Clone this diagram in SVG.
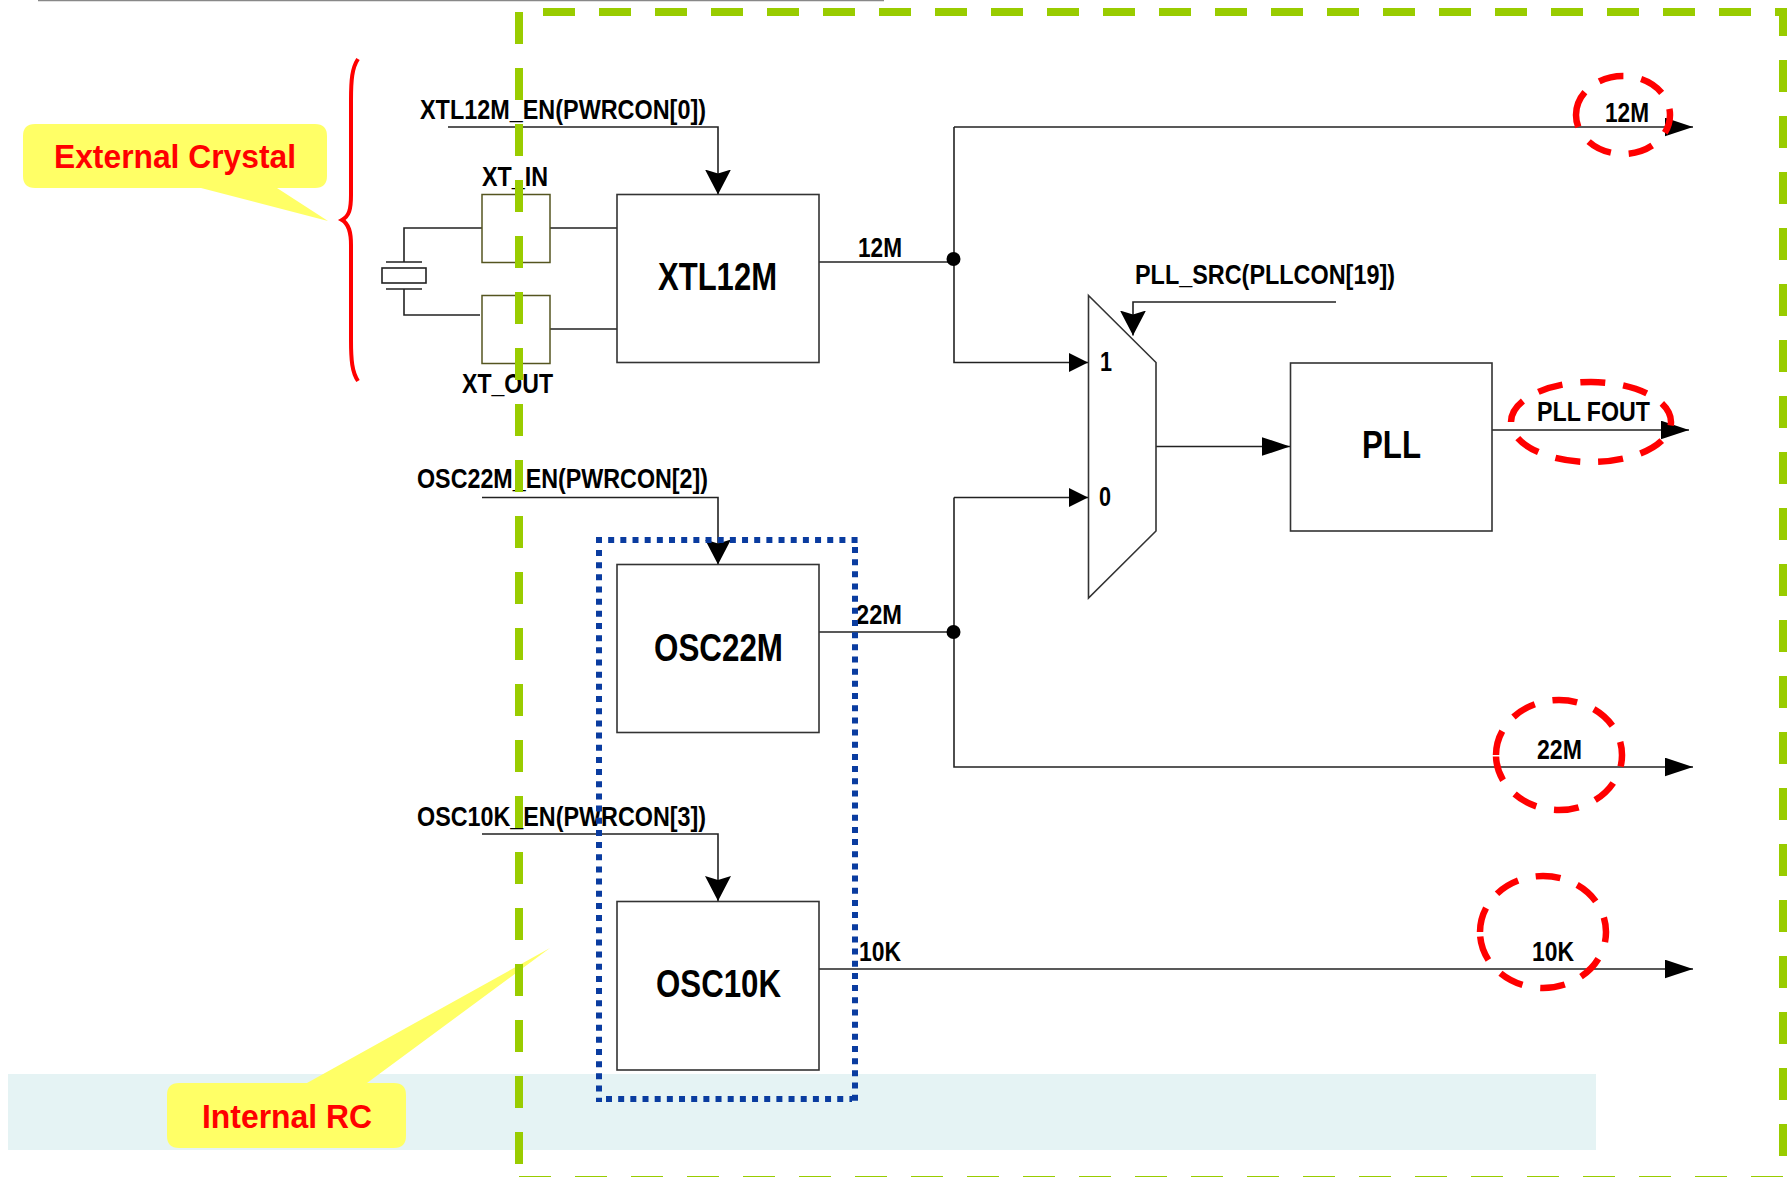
<svg xmlns="http://www.w3.org/2000/svg" width="1791" height="1177" viewBox="0 0 1791 1177">
<style>
text{font-family:"Liberation Sans",Arial,sans-serif;font-weight:bold;fill:#000;font-size:27.5px}
.big{font-size:38px}
.red{fill:#f00;font-size:33.5px}
.box{fill:#fff;stroke:#333;stroke-width:1.6}
.pad{fill:#fff;stroke:#555520;stroke-width:1.5}
.w{fill:none;stroke:#222;stroke-width:1.6}
.call{fill:#ff6;stroke:none}
.ring{fill:none;stroke:#f00;stroke-width:6.5;stroke-dasharray:25 18}
.green{fill:none;stroke:#9c0;stroke-width:8;stroke-dasharray:32 24}
.blue{fill:none;stroke:#0a3ca0;stroke-width:6;stroke-dasharray:6 6.17}
</style>
<defs>
<marker id="ar" markerUnits="userSpaceOnUse" markerWidth="30" markerHeight="20" refX="28.5" refY="9.5" orient="auto"><path d="M0,0L28.5,9.5L0,19z" fill="#000"/></marker>
<marker id="ad" markerUnits="userSpaceOnUse" markerWidth="26" markerHeight="28" refX="25" refY="13" orient="auto"><path d="M0,0L4,13L0,26L25,13z" fill="#000"/></marker>
<marker id="am" markerUnits="userSpaceOnUse" markerWidth="22" markerHeight="22" refX="19" refY="9.5" orient="auto"><path d="M0,0L19,9.5L0,19z" fill="#000"/></marker>
</defs>
<rect width="1791" height="1177" fill="#fff"/>
<path d="M38,0.5H884" fill="none" stroke="#888" stroke-width="1.5"/>
<rect id="band" x="8" y="1074" width="1588" height="76" fill="#e5f3f4"/>

<g id="connectors">
<path class="w" d="M448,127H718V194.5" marker-end="url(#ad)"/>
<path class="w" d="M954,127H1693" marker-end="url(#ar)"/>
<path class="w" d="M819,262H954"/>
<path class="w" d="M954,127V362.5H1088" marker-end="url(#am)"/>
<path class="w" d="M482,497.5H718V564.5" marker-end="url(#ad)"/>
<path class="w" d="M482,834H718V901" marker-end="url(#ad)"/>
<path class="w" d="M819,632H954"/>
<path class="w" d="M954,497.5H1088" marker-end="url(#am)"/>
<path class="w" d="M954,497.5V767H1693" marker-end="url(#ar)"/>
<path class="w" d="M819,969H1693" marker-end="url(#ar)"/>
<path class="w" d="M1336,302H1133V335.5" marker-end="url(#ad)"/>
<path class="w" d="M1156,446.5H1290" marker-end="url(#ar)"/>
<path class="w" d="M1492,430H1689" marker-end="url(#ar)"/>
<path class="w" d="M482,228H404V262M386,262H422M386,289H422M404,289V315H480M550,228H617M550,329H617"/>
<rect class="w" x="382" y="268" width="44" height="15"/>
<circle cx="953.5" cy="259" r="7" fill="#000"/>
<circle cx="953.5" cy="632" r="7" fill="#000"/>
</g>

<g id="xt-in"><rect class="pad" x="482" y="194.5" width="68" height="68"/><text x="482" y="186" textLength="66" lengthAdjust="spacingAndGlyphs">XT_IN</text></g>
<g id="xt-out"><rect class="pad" x="482" y="295.5" width="68" height="68"/><text x="462" y="393" textLength="91" lengthAdjust="spacingAndGlyphs">XT_OUT</text></g>
<g id="xtl12m"><rect class="box" x="617" y="194.5" width="202" height="168"/><text class="big" x="658" y="290" textLength="119" lengthAdjust="spacingAndGlyphs">XTL12M</text></g>
<g id="osc22m"><rect class="box" x="617" y="564.5" width="202" height="168"/><text class="big" x="654" y="661" textLength="129" lengthAdjust="spacingAndGlyphs">OSC22M</text></g>
<g id="osc10k"><rect class="box" x="617" y="901.5" width="202" height="168.5"/><text class="big" x="656" y="997" textLength="125" lengthAdjust="spacingAndGlyphs">OSC10K</text></g>
<g id="pll"><rect class="box" x="1290.5" y="363" width="201.5" height="168"/><text class="big" x="1362" y="458" textLength="59" lengthAdjust="spacingAndGlyphs">PLL</text></g>
<g id="mux"><path class="box" d="M1088.5,295.5L1156,362.5V531L1088.5,598z"/><text x="1100" y="371" textLength="12" lengthAdjust="spacingAndGlyphs">1</text><text x="1099" y="506" textLength="12" lengthAdjust="spacingAndGlyphs">0</text></g>

<g id="labels">
<text x="420" y="119" textLength="286" lengthAdjust="spacingAndGlyphs">XTL12M_EN(PWRCON[0])</text>
<text x="417" y="488" textLength="291" lengthAdjust="spacingAndGlyphs">OSC22M_EN(PWRCON[2])</text>
<text x="417" y="826" textLength="289" lengthAdjust="spacingAndGlyphs">OSC10K_EN(PWRCON[3])</text>
<text x="1135" y="284" textLength="260" lengthAdjust="spacingAndGlyphs">PLL_SRC(PLLCON[19])</text>
<text x="858" y="257" textLength="44" lengthAdjust="spacingAndGlyphs">12M</text>
<text x="856" y="624" textLength="46" lengthAdjust="spacingAndGlyphs">22M</text>
<text x="859" y="961" textLength="42" lengthAdjust="spacingAndGlyphs">10K</text>
<text x="1605" y="122" textLength="44" lengthAdjust="spacingAndGlyphs">12M</text>
<text x="1537" y="421" textLength="113" lengthAdjust="spacingAndGlyphs">PLL FOUT</text>
<text x="1537" y="759" textLength="45" lengthAdjust="spacingAndGlyphs">22M</text>
<text x="1532" y="961" textLength="42" lengthAdjust="spacingAndGlyphs">10K</text>
</g>

<g id="rings">
<path class="ring" d="M1576,115A47,39 0 1 1 1670,115A47,39 0 1 1 1576,115"/>
<path class="ring" d="M1511,422A80,40 0 1 1 1671,422A80,40 0 1 1 1511,422"/>
<path class="ring" d="M1496,755A63,55 0 1 1 1622,755A63,55 0 1 1 1496,755"/>
<path class="ring" d="M1480,932A63,56 0 1 1 1606,932A63,56 0 1 1 1480,932"/>
</g>

<path id="brace" d="M358,59C352,68 351,80 351,100V195C351,210 349,216 342,220C349,224 351,232 351,245V340C351,360 352,372 358,381" fill="none" stroke="#f00" stroke-width="4"/>

<g id="external-crystal"><path class="call" d="M35,124H315Q327,124 327,136V176Q327,188 315,188H277L328,221L201,188H35Q23,188 23,176V136Q23,124 35,124z"/><text class="red" x="54" y="168" textLength="242" lengthAdjust="spacingAndGlyphs">External Crystal</text></g>
<g id="internal-rc"><path class="call" d="M179,1083H307L550,948L367,1083H394Q406,1083 406,1095V1136Q406,1148 394,1148H179Q167,1148 167,1136V1095Q167,1083 179,1083z"/><text class="red" x="202" y="1128" textLength="170" lengthAdjust="spacingAndGlyphs">Internal RC</text></g>

<g id="frame">
<path class="green" d="M519,12V1164"/>
<path class="green" d="M543,12H1783V1156"/>
<path class="green" d="M1783,1180H519"/>
</g>
<g id="blue-box">
<path class="blue" d="M596,540H858"/>
<path class="blue" d="M599,550V1102"/>
<path class="blue" d="M855,547V1102"/>
<path class="blue" d="M606,1099H852"/>
</g>
</svg>
